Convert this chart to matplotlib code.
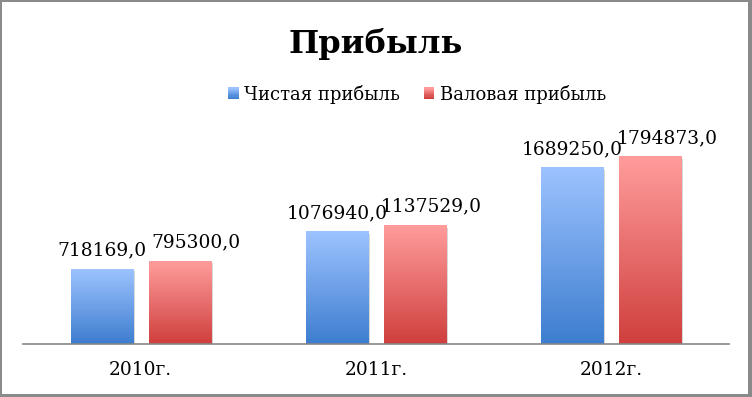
import matplotlib
matplotlib.use('Agg')
import matplotlib.pyplot as plt
from matplotlib.patches import Rectangle
from matplotlib.colors import LinearSegmentedColormap
from matplotlib.legend_handler import HandlerBase
import matplotlib.patheffects as pe
import numpy as np

years = ['2010г.', '2011г.', '2012г.']
net_profit = [718169.0, 1076940.0, 1689250.0]
gross_profit = [795300.0, 1137529.0, 1794873.0]
series_names = ['Чистая прибыль', 'Валовая прибыль']

W, H = 752, 397
blue_cols = ('#3d7dcf', '#9dc3ff')   # bottom, top
red_cols = ('#cf3f3d', '#ff9d9c')

plt.rcParams['font.family'] = ['DejaVu Serif']

fig = plt.figure(figsize=(W / 100, H / 100), dpi=100)
fig.patch.set_facecolor('white')

# plot area in pixels: left 23, right 729, baseline at 344
ax = fig.add_axes([23 / W, (H - 344) / H, 706 / W, 208.4 / H])
ax.set_facecolor('none')

x = np.arange(len(years))
bw = 0.2635
off = 0.166
grad = np.linspace(0, 1, 256).reshape(-1, 1)


def gradient_bars(xs, vals, cols, dx_label):
    cmap = LinearSegmentedColormap.from_list('g', cols)
    bars = ax.bar(xs, vals, width=bw, color=cols[0], zorder=2, linewidth=0)
    for b, v in zip(bars, vals):
        b.set_path_effects([pe.SimplePatchShadow(offset=(1.5, -1.5), shadow_rgbFace='#909090', alpha=0.35),
                            pe.Normal()])
        x0 = b.get_x()
        ax.imshow(grad, extent=[x0, x0 + bw, 0, v], origin='lower', aspect='auto',
                  cmap=cmap, zorder=3, interpolation='bilinear')
        ax.annotate(f'{v:.1f}'.replace('.', ','), xy=(x0 + bw / 2, v), xytext=(dx_label, 10),
                    textcoords='offset points', ha='center', va='baseline', fontsize=13.4, zorder=4)


gradient_bars(x - off, net_profit, blue_cols, 0)
gradient_bars(x + off, gross_profit, red_cols, 12)

ax.set_xlim(-0.5, len(years) - 0.5)
ax.set_ylim(0, 2000000)
ax.set_xticks(x)
ax.set_xticklabels(years, fontsize=13.4)
ax.tick_params(axis='x', length=0, pad=12.5)
ax.set_yticks([])
for s in ['left', 'right', 'top']:
    ax.spines[s].set_visible(False)
ax.spines['bottom'].set_color('#868686')
ax.spines['bottom'].set_linewidth(1.2)
ax.spines['bottom'].set_zorder(5)

fig.text(0.5, (H - 53) / H, 'Прибыль', ha='center', va='baseline', fontsize=23, fontweight='bold')


class GradHandler(HandlerBase):
    def __init__(self, cols):
        super().__init__()
        self.cols = cols

    def create_artists(self, legend, orig, xdescent, ydescent, width, height, fontsize, trans):
        cmap = LinearSegmentedColormap.from_list('g', self.cols)
        n = 10
        arts = []
        for i in range(n):
            r = Rectangle((-xdescent, -ydescent + height * i / n), width, height / n + 0.3,
                          facecolor=cmap(i / (n - 1)), edgecolor='none', transform=trans)
            arts.append(r)
        return arts


h1 = Rectangle((0, 0), 1, 1)
h2 = Rectangle((0, 0), 1, 1)
fig.legend([h1, h2], series_names, loc='center', bbox_to_anchor=(417 / W, (H - 94) / H),
           ncol=2, frameon=False, fontsize=13, handlelength=0.6, handleheight=0.6,
           handletextpad=0.3, columnspacing=1.3,
           handler_map={h1: GradHandler(blue_cols), h2: GradHandler(red_cols)})

# chart border (thicker on right/bottom like a shadow)
bc = '#8a8a8a'
for (x0, y0, w, h) in [(0, 0, 2, H), (0, 0, W, 2), (W - 4, 0, 4, H), (0, H - 3, W, 3)]:
    fig.add_artist(Rectangle((x0 / W, (H - y0 - h) / H), w / W, h / H, transform=fig.transFigure,
                             facecolor=bc, edgecolor='none'))

fig.savefig('out.png', dpi=100, facecolor='white')
